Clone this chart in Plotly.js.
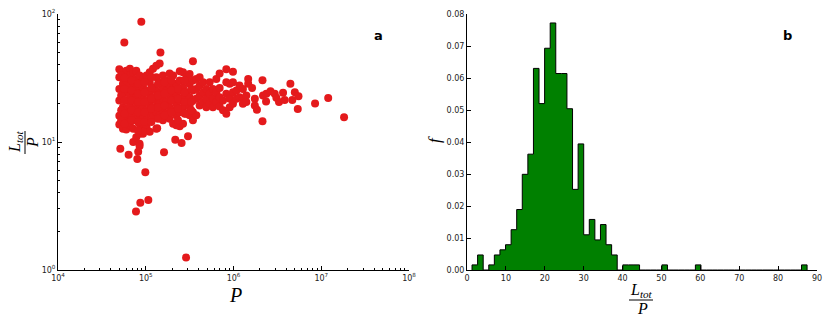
<!DOCTYPE html>
<html lang="en">
<head>
    <meta charset="UTF-8">
    <title>Population vs total length</title>
    <script src="https://cdn.plot.ly/plotly-3.0.1.min.js"></script>
    <style>
        body { margin: 0; background: white; }
        #chart { width: 830px; height: 323px; }
    </style>
</head>
<body>
<div id="chart"></div>
<script>
    // panel a: population P vs L_tot / P (one line per column of dots)
    const popSize = [
        50e3, 50e3, 50e3, 50e3, 50e3, 50e3,
        55e3, 55e3, 55e3, 55e3, 55e3, 55e3,
        60e3, 60e3, 60e3, 60e3, 60e3, 60e3, 60e3,
        66e3, 66e3, 66e3, 66e3, 66e3, 66e3, 66e3,
        72e3, 72e3, 72e3, 72e3, 72e3, 72e3, 72e3, 72e3,
        78e3, 78e3, 78e3, 78e3, 78e3, 78e3, 78e3,
        85e3, 85e3, 85e3, 85e3, 85e3, 85e3, 85e3, 85e3,
        93e3, 93e3, 93e3, 93e3, 93e3, 93e3, 93e3,
        102e3, 102e3, 102e3, 102e3, 102e3, 102e3,
        111e3, 111e3, 111e3, 111e3, 111e3, 111e3,
        121e3, 121e3, 121e3, 121e3, 121e3,
        132e3, 132e3, 132e3, 132e3, 132e3, 132e3,
        144e3, 144e3, 144e3, 144e3, 144e3,
        157e3, 157e3, 157e3, 157e3, 157e3,
        172e3, 172e3, 172e3, 172e3,
        187e3, 187e3, 187e3, 187e3, 187e3,
        205e3, 205e3, 205e3, 205e3, 205e3,
        223e3, 223e3, 223e3, 223e3, 223e3,
        244e3, 244e3, 244e3, 244e3, 244e3, 244e3,
        266e3, 266e3, 266e3, 266e3, 266e3,
        290e3, 290e3, 290e3, 290e3,
        316e3, 316e3, 316e3, 316e3, 316e3,
        345e3, 345e3, 345e3, 345e3, 345e3,
        377e3, 377e3, 377e3, 377e3,
        411e3, 411e3, 411e3, 411e3,
        450e3, 450e3, 450e3,
        490e3, 490e3, 490e3,
        535e3, 535e3, 535e3,
        583e3, 583e3, 583e3,
        637e3, 637e3, 637e3,
        695e3, 695e3, 695e3, 695e3,
        760e3, 760e3,
        828e3, 828e3, 828e3, 828e3,
        905e3, 905e3, 905e3,
        986e3, 986e3, 986e3, 986e3,
        1.08e6, 1.08e6,
        1.17e6, 1.17e6,
        1.28e6, 1.28e6, 1.28e6,
        1.40e6, 1.40e6,
        1.47e6, 1.47e6,
        1.63e6, 1.75e6, 1.75e6, 1.85e6, 2.14e6, 2.14e6, 2.17e6, 2.35e6, 2.37e6, 2.64e6,
        2.95e6, 3.08e6, 3.30e6, 3.67e6, 3.83e6, 4.45e6, 4.68e6, 5.0e6, 5.4e6, 5.5e6,
        8.5e6, 1.2e7, 1.82e7,
        89e3, 57e3, 147e3, 345e3, 51.3e3, 63.8e3, 80.1e3, 98.9e3, 161.5e3, 86.7e3,
        77.4e3, 107e3, 288e3, 303e3, 217e3, 256e3, 135e3, 85e3, 82e3, 93e3,
        52.5e3, 52.5e3, 52.5e3, 52.5e3,
        57.5e3, 57.5e3, 57.5e3, 57.5e3, 57.5e3,
        69e3, 69e3, 69e3, 69e3, 69e3,
        81.5e3, 81.5e3, 81.5e3, 81.5e3, 81.5e3, 81.5e3,
        97e3, 97e3, 97e3, 97e3, 97e3,
        116e3, 116e3, 116e3, 116e3, 116e3,
        138e3, 138e3, 138e3, 138e3,
        164e3, 164e3, 164e3, 164e3,
        196e3, 196e3, 196e3, 196e3,
        233e3, 233e3, 233e3, 233e3,
        278e3, 278e3, 278e3, 278e3,
        330e3, 330e3, 330e3
    ];
    const lengthRatio = [
        37.0, 32.1, 26.0, 21.1, 16.0, 13.7,
        35.1, 28.5, 23.8, 18.7, 15.2, 12.7,
        36.1, 30.2, 25.3, 21.1, 17.7, 14.8, 12.5,
        37.3, 33.1, 27.6, 23.1, 19.3, 16.2, 13.5,
        35.1, 29.3, 24.5, 21.1, 17.7, 14.8, 12.7, 10.0,
        36.1, 31.1, 26.0, 22.4, 18.7, 15.7, 10.9,
        33.1, 28.5, 23.8, 19.9, 16.6, 13.9, 11.6, 9.7,
        31.1, 26.8, 22.4, 18.7, 15.7, 13.1, 11.6,
        33.1, 25.3, 21.1, 17.7, 14.8, 13.1,
        35.1, 29.3, 23.8, 19.9, 16.6, 12.0,
        37.3, 26.8, 22.4, 18.7, 15.7,
        39.5, 32.1, 25.3, 21.1, 17.1, 12.7,
        41.0, 29.3, 23.8, 19.9, 16.2,
        33.1, 26.8, 21.8, 17.7, 14.8,
        30.2, 25.3, 20.5, 16.6,
        34.3, 27.6, 23.1, 18.7, 15.2,
        33.1, 26.0, 21.8, 17.7, 13.9,
        28.5, 23.8, 19.9, 16.2, 13.5,
        35.7, 30.2, 25.3, 21.1, 17.1, 13.3,
        35.1, 26.8, 22.4, 18.7, 13.9,
        32.1, 24.5, 20.5, 16.6,
        34.0, 28.5, 22.4, 18.7, 16.2,
        30.2, 25.3, 21.1, 17.1, 14.8,
        31.1, 26.0, 21.8, 16.2,
        32.1, 27.6, 23.1, 19.3,
        29.3, 24.5, 20.5,
        26.0, 21.8, 18.7,
        29.3, 23.8, 19.9,
        26.0, 21.8, 18.7,
        31.1, 24.5, 20.5,
        34.3, 26.4, 22.4, 18.9,
        21.1, 17.7,
        37.0, 29.3, 23.8, 16.6,
        28.5, 21.8, 18.7,
        35.4, 29.3, 24.5, 19.9,
        25.3, 21.8,
        27.6, 22.4,
        26.0, 21.8, 19.9,
        23.1, 20.5,
        31.1, 28.5,
        26.4, 21.8, 19.3, 17.9, 30.4, 14.5, 23.1, 20.7, 23.8, 24.9,
        23.8, 22.2, 20.5, 24.2, 21.3, 28.5, 21.3, 24.5, 18.1, 22.8,
        20.0, 22.1, 15.6,
        87.0, 59.8, 50.0, 42.8, 8.87, 7.96, 7.38, 5.8, 8.3, 3.35,
        2.87, 3.53, 1.25, 11.1, 10.4, 9.8, 12.8, 9.3, 8.4, 12.0,
        33.1, 23.1, 17.7, 14.8,
        31.7, 26.0, 21.1, 16.6, 13.9,
        30.2, 25.3, 21.1, 17.7, 14.8,
        28.5, 23.8, 20.5, 17.1, 14.3, 12.3,
        29.3, 24.5, 20.5, 17.1, 14.3,
        32.1, 26.4, 21.8, 18.2, 14.3,
        28.5, 23.1, 18.7, 15.2,
        29.3, 23.8, 19.3, 16.2,
        30.2, 25.3, 21.1, 17.1,
        26.0, 21.8, 18.2, 14.8,
        30.2, 24.5, 20.5, 16.6,
        26.0, 20.5, 17.7
    ];

    // panel b: histogram of L_tot / P, 60 equal bins, normalised
    const binStart = 1.29;
    const binWidth = 1.436;
    const density = [
        0.0016, 0.0047, 0, 0.0016, 0.0047, 0.0063, 0.0079, 0.0126, 0.0189, 0.0299,
        0.0362, 0.0630, 0.0520, 0.0693, 0.0772, 0.0614, 0.0614, 0.0504, 0.0252, 0.0394,
        0.0110, 0.0158, 0.0094, 0.0142, 0.0079, 0.0047, 0, 0.0016, 0.0016, 0.0016,
        0, 0, 0, 0, 0.0016, 0, 0, 0, 0, 0,
        0.0016, 0, 0, 0, 0, 0, 0, 0, 0, 0,
        0, 0, 0, 0, 0, 0, 0, 0, 0, 0.0016
    ];

    const logTicks = [1e4, 1e5, 1e6, 1e7, 1e8];
    const logTickText = ['10<sup>4</sup>', '10<sup>5</sup>', '10<sup>6</sup>', '10<sup>7</sup>', '10<sup>8</sup>'];
    const ratioTicks = [1, 10, 100];
    const ratioTickText = ['10<sup>0</sup>', '10<sup>1</sup>', '10<sup>2</sup>'];

    // step outline for the stepfilled histogram
    let stepX = [binStart], stepY = [0];
    density.forEach(function (d, i) {
        stepX.push(binStart + i * binWidth);
        stepY.push(d);
    });
    stepX.push(binStart + density.length * binWidth);
    stepY.push(0);

    const scatterTrace = {
        x: popSize, y: lengthRatio, type: 'scatter', mode: 'markers',
        marker: {color: '#e41a1c', size: 8},
        xaxis: 'x', yaxis: 'y', hoverinfo: 'x+y'
    };
    const histTrace = {
        x: stepX, y: stepY, type: 'scatter', mode: 'lines',
        line: {shape: 'hv', color: 'black', width: 1},
        fill: 'tozeroy', fillcolor: '#008000',
        xaxis: 'x2', yaxis: 'y2'
    };

    // pixel -> paper helpers for the labels (plot area 58..817 x 14..270)
    const W = 759, H = 256;
    function px(x) { return (x - 58) / W; }
    function py(y) { return (270 - y) / H; }

    const tickFont = {family: 'DejaVu Sans, sans-serif', size: 8, color: '#222'};
    const mathFont = {family: 'Liberation Serif, serif', color: 'black'};

    function label(text, x, y, size, angle, font) {
        return {
            text: text, xref: 'paper', yref: 'paper', x: px(x), y: py(y),
            xanchor: 'center', yanchor: 'middle', textangle: angle || 0,
            showarrow: false, font: Object.assign({size: size}, font || mathFont)
        };
    }

    const baseAxis = {
        showline: true, linecolor: 'black', linewidth: 1, mirror: false,
        showgrid: false, zeroline: false,
        ticks: 'inside', ticklen: 4, tickcolor: 'black', tickwidth: 1,
        tickfont: tickFont
    };

    const layout = {
        width: 830, height: 323,
        margin: {l: 58, r: 13, t: 14, b: 53},
        paper_bgcolor: 'white', plot_bgcolor: 'white',
        showlegend: false,
        xaxis: Object.assign({}, baseAxis, {
            type: 'log', range: [4, 8], domain: [0, 351 / W], anchor: 'y',
            tickmode: 'array', tickvals: logTicks, ticktext: logTickText,
            minor: {ticks: 'inside', ticklen: 2, dtick: 'D1', tickcolor: 'black'}
        }),
        yaxis: Object.assign({}, baseAxis, {
            type: 'log', range: [0, 2], anchor: 'x',
            tickmode: 'array', tickvals: ratioTicks, ticktext: ratioTickText,
            minor: {ticks: 'inside', ticklen: 2, dtick: 'D1', tickcolor: 'black'}
        }),
        xaxis2: Object.assign({}, baseAxis, {
            range: [0, 90], domain: [409 / W, 1], anchor: 'y2', dtick: 10
        }),
        yaxis2: Object.assign({}, baseAxis, {
            range: [0, 0.08], anchor: 'x2', dtick: 0.01, tickformat: '.2f'
        }),
        shapes: [
            {type: 'line', xref: 'paper', yref: 'paper', x0: px(25), x1: px(25), y0: py(131), y1: py(154),
                line: {color: 'black', width: 1}},
            {type: 'line', xref: 'paper', yref: 'paper', x0: px(629), x1: px(653), y0: py(300), y1: py(300),
                line: {color: 'black', width: 1}}
        ],
        annotations: [
            label('<i>L</i><sub><i>tot</i></sub>', 15, 142, 16, -90),
            label('<i>P</i>', 32, 143, 16, -90),
            label('<i>P</i>', 235, 295, 20),
            label('<i>f</i>', 434, 140, 17, -90),
            label('<i>L</i><sub><i>tot</i></sub>', 641, 290, 16),
            label('<i>P</i>', 642, 308, 16),
            label('<b>a</b>', 378, 35, 13, 0, {family: 'DejaVu Sans, sans-serif', color: 'black'}),
            label('<b>b</b>', 787, 35, 13, 0, {family: 'DejaVu Sans, sans-serif', color: 'black'})
        ]
    };

    Plotly.newPlot('chart', [scatterTrace, histTrace], layout, {staticPlot: true, displayModeBar: false});
</script>
</body>
</html>
